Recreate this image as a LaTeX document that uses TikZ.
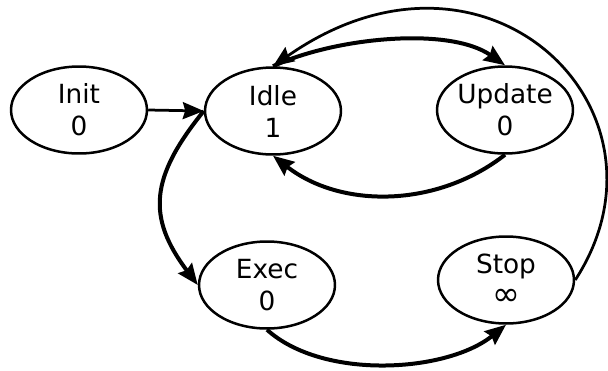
\documentclass[tikz,border=0pt]{standalone}
\usepackage{fontspec}
\setmainfont{DejaVu Sans}
\usepackage{tikz}
\usetikzlibrary{shapes.geometric,arrows.meta}

\begin{document}
\begin{tikzpicture}[x=0.02cm, y=0.02cm,
	state/.style={ellipse, draw, line width=0.05cm, inner sep=0pt,
		minimum width=2.72cm, minimum height=1.74cm, align=center,
		font=\fontsize{15}{18.2}\selectfont},
	trans/.style={line width=0.08cm, -{Stealth[length=0.42cm, width=0.34cm, inset=0.05cm]}},
	thintrans/.style={trans, line width=0.055cm}]

				\useasboundingbox (0, 0) rectangle (608, 370);

				\node[state] (init)   at (79, 260)  {Init\\0};
				\node[state] (idle)   at (273, 259) {Idle\\1};
				\node[state] (update) at (505, 260) {Update\\0};
				\node[state] (exec)   at (267, 85)  {Exec\\0};
				\node[state] (stop)   at (506, 90)  {Stop\\{\fontsize{19}{18.2}\selectfont ∞}};

				\draw [thintrans] (init.east) -- (idle.west);

				\draw [trans] (idle.north)   to[out=25, in=145, looseness=0.75] (update.north);
				\draw [trans] (update.south) to[out=218, in=-38, looseness=0.95] (idle.south);
				\draw [trans] (idle.west)    to[out=231, in=127, looseness=1.25] (exec.west);
				\draw [trans] (exec.south)   to[out=-42, in=-141, looseness=0.81] (stop.south);

				\draw [thintrans] (stop.east) to[out=57, in=35, out looseness=1.4, in looseness=1.8] (idle.north);

			\end{tikzpicture}
\end{document}
